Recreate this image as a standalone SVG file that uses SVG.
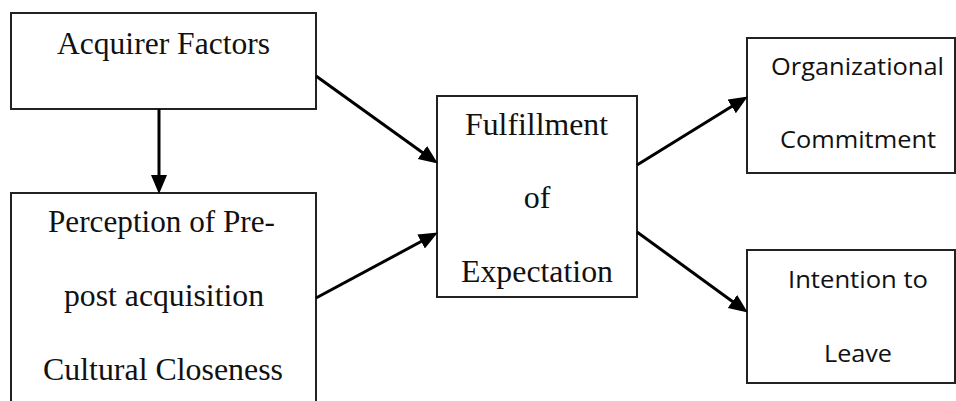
<svg xmlns="http://www.w3.org/2000/svg" width="956" height="401" viewBox="0 0 956 401">
<style>
.box{fill:#fff;stroke:#222;stroke-width:2}
.serif{font-family:"Liberation Serif","Times New Roman",serif;font-size:32px;fill:#111}
.sans{font-family:"Open Sans","Liberation Sans",sans-serif;font-size:23px;fill:#111}
.conn{stroke:#000;stroke-width:3;fill:none;marker-end:url(#ah)}
</style>
<defs>
<marker id="ah" markerUnits="userSpaceOnUse" markerWidth="20" markerHeight="18" refX="9" refY="8" orient="auto">
<path d="M0,0 L19,8 L0,16 z" fill="#000"/>
</marker>
</defs>
<rect width="956" height="401" fill="#fff"/>
<g id="acquirer-factors">
<rect class="box" x="11" y="13" width="305" height="96"/>
<text class="serif" x="163.5" y="54" text-anchor="middle" textLength="213" lengthAdjust="spacingAndGlyphs">Acquirer Factors</text>
</g>
<g id="cultural-closeness">
<rect class="box" x="11" y="193" width="305" height="230"/>
<text class="serif" x="161.5" y="232" text-anchor="middle" textLength="227" lengthAdjust="spacingAndGlyphs">Perception of Pre-</text>
<text class="serif" x="164" y="306" text-anchor="middle" textLength="200" lengthAdjust="spacingAndGlyphs">post acquisition</text>
<text class="serif" x="163" y="380" text-anchor="middle" textLength="240" lengthAdjust="spacingAndGlyphs">Cultural Closeness</text>
</g>
<g id="fulfillment">
<rect class="box" x="437" y="96" width="200" height="201"/>
<text class="serif" x="536.5" y="135" text-anchor="middle" textLength="143" lengthAdjust="spacingAndGlyphs">Fulfillment</text>
<text class="serif" x="537" y="208" text-anchor="middle">of</text>
<text class="serif" x="537" y="282" text-anchor="middle" textLength="152" lengthAdjust="spacingAndGlyphs">Expectation</text>
</g>
<g id="org-commitment">
<rect class="box" x="747" y="38" width="208" height="135"/>
<text class="sans" x="857.5" y="75" text-anchor="middle" textLength="173" lengthAdjust="spacingAndGlyphs">Organizational</text>
<text class="sans" x="858" y="148" text-anchor="middle" textLength="156" lengthAdjust="spacingAndGlyphs">Commitment</text>
</g>
<g id="intention-to-leave">
<rect class="box" x="747" y="250" width="208" height="133"/>
<text class="sans" x="858" y="288" text-anchor="middle" textLength="140" lengthAdjust="spacingAndGlyphs">Intention to</text>
<text class="sans" x="858" y="362" text-anchor="middle" textLength="68" lengthAdjust="spacingAndGlyphs">Leave</text>
</g>
<g id="connectors">
<path class="conn" d="M159,109 L159,184"/>
<path class="conn" d="M316,76 L429.7,157.7"/>
<path class="conn" d="M316,298 L429,237.3"/>
<path class="conn" d="M637,165 L739.3,101.7"/>
<path class="conn" d="M637,232 L739.7,306.7"/>
</g>
</svg>
